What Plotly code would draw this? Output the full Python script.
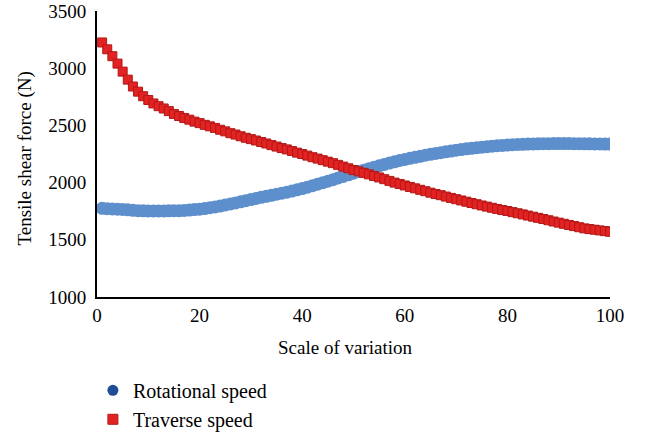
import plotly.graph_objects as go

x_vals = list(range(1, 101))

rotational_speed = [
    1775, 1772, 1770, 1768, 1765, 1762, 1758, 1755, 1753, 1752,
    1752, 1752, 1752, 1753, 1754, 1755, 1757, 1760, 1764, 1768,
    1773, 1780, 1787, 1795, 1804, 1813, 1822, 1832, 1842, 1852,
    1862, 1871, 1880, 1889, 1898, 1907, 1916, 1926, 1937, 1948,
    1960, 1973, 1986, 1999, 2012, 2026, 2040, 2054, 2068, 2082,
    2096, 2109, 2122, 2135, 2147, 2159, 2171, 2182, 2193, 2203,
    2212, 2221, 2230, 2239, 2247, 2255, 2262, 2269, 2276, 2283,
    2289, 2295, 2300, 2305, 2310, 2314, 2318, 2322, 2325, 2328,
    2331, 2333, 2335, 2337, 2338, 2339, 2340, 2340, 2341, 2341,
    2341, 2341, 2340, 2340, 2339, 2339, 2338, 2338, 2337, 2337,
]

traverse_speed = [
    3225, 3165, 3105, 3040, 2970, 2900, 2840, 2795, 2755, 2722,
    2692, 2668, 2648, 2625, 2600, 2582, 2565, 2550, 2533, 2520,
    2505, 2492, 2478, 2462, 2448, 2432, 2420, 2405, 2392, 2380,
    2368, 2355, 2342, 2328, 2315, 2302, 2290, 2276, 2262, 2250,
    2236, 2222, 2210, 2196, 2183, 2170, 2155, 2140, 2125, 2110,
    2098, 2085, 2072, 2058, 2045, 2030, 2015, 2000, 1988, 1975,
    1962, 1950, 1937, 1925, 1912, 1900, 1890, 1878, 1866, 1855,
    1844, 1833, 1822, 1811, 1800, 1790, 1780, 1770, 1760, 1752,
    1742, 1732, 1722, 1712, 1702, 1692, 1682, 1671, 1660, 1650,
    1640, 1630, 1620, 1610, 1600, 1594, 1588, 1582, 1576, 1570,
]

x_ticks = [0, 20, 40, 60, 80, 100]
y_ticks = [1000, 1500, 2000, 2500, 3000, 3500]
x_title = "Scale of variation"
y_title = "Tensile shear force (N)"

FONT = "Times New Roman, Liberation Serif, serif"
FS = 19

fig = go.Figure()

fig.add_trace(go.Scatter(
    x=x_vals, y=rotational_speed, mode="markers", showlegend=False,
    marker=dict(symbol="circle", size=13, color="#5E8FCD", line=dict(width=0)),
))
fig.add_trace(go.Scatter(
    x=x_vals, y=traverse_speed, mode="markers", showlegend=False,
    marker=dict(symbol="square", size=9, color="#E32222",
                line=dict(width=1, color="#B31818")),
))

# legend entries
fig.add_trace(go.Scatter(
    x=[None], y=[None], mode="markers", name="Rotational speed",
    marker=dict(symbol="circle", size=11, color="#1F4C96",
                line=dict(width=0)),
))
fig.add_trace(go.Scatter(
    x=[None], y=[None], mode="markers", name="Traverse speed",
    marker=dict(symbol="square", size=10, color="#E32222",
                line=dict(width=1, color="#B31818")),
))

fig.update_layout(
    width=645, height=434,
    margin=dict(l=97, r=35, t=11, b=137, autoexpand=False),
    paper_bgcolor="white", plot_bgcolor="white",
    font=dict(family=FONT, size=FS, color="black"),
    xaxis=dict(
        range=[0, 100], tickvals=x_ticks, showgrid=False, zeroline=False,
        showline=True, linecolor="black", linewidth=2, ticks="",
        ticklabelstandoff=0,
        tickfont=dict(family=FONT, size=FS),
    ),
    yaxis=dict(
        range=[1000, 3500], tickvals=y_ticks, showgrid=False, zeroline=False,
        showline=True, linecolor="black", linewidth=2, ticks="",
        ticklabelstandoff=5,
        tickfont=dict(family=FONT, size=FS),
    ),
    legend=dict(
        x=-0.008, y=-0.258, xanchor="left", yanchor="top",
        font=dict(family=FONT, size=20), bgcolor="rgba(0,0,0,0)", tracegroupgap=0,
    ),
)

fig.add_annotation(xref="paper", yref="paper", x=0.4844, y=-0.175,
                   text=x_title, showarrow=False, xanchor="center", yanchor="middle",
                   font=dict(family=FONT, size=FS))
fig.add_annotation(xref="paper", yref="paper", x=-0.1404, y=0.484,
                   text=y_title, showarrow=False, textangle=-90,
                   xanchor="center", yanchor="middle",
                   font=dict(family=FONT, size=FS))

fig.write_html("out.html")
